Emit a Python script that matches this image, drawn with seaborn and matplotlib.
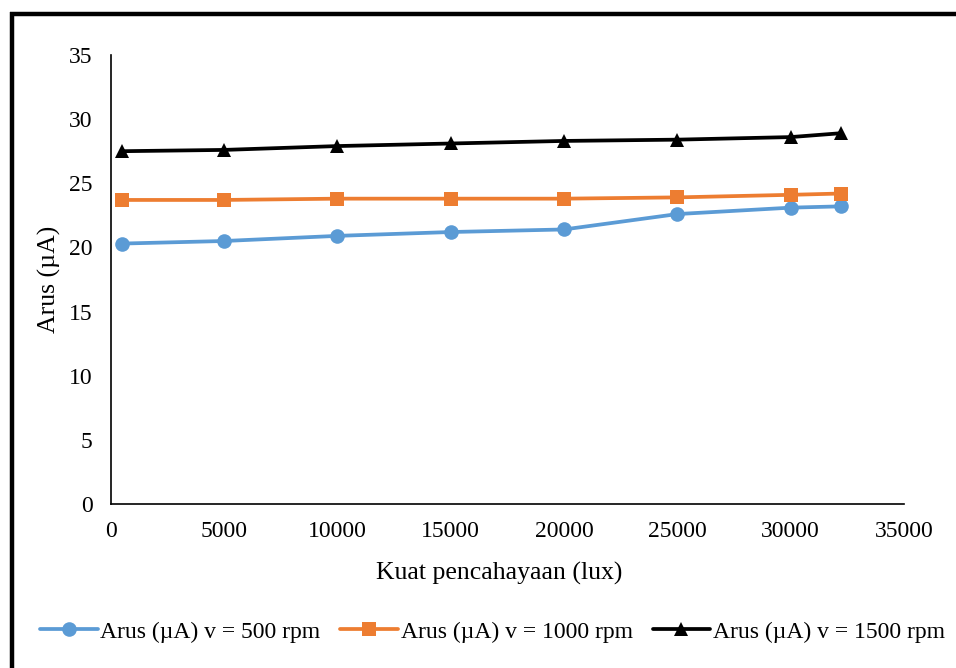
import pandas as pd
import matplotlib.pyplot as plt
import seaborn as sns
from matplotlib.lines import Line2D

# data
lux = [500, 5000, 10000, 15000, 20000, 25000, 30000, 32200]
arus_500 = [20.3, 20.5, 20.9, 21.2, 21.4, 22.6, 23.1, 23.2]
arus_1000 = [23.7, 23.7, 23.8, 23.8, 23.8, 23.9, 24.1, 24.2]
arus_1500 = [27.5, 27.6, 27.9, 28.1, 28.3, 28.4, 28.6, 28.9]
series_names = ["Arus (µA) v = 500 rpm", "Arus (µA) v = 1000 rpm", "Arus (µA) v = 1500 rpm"]
colors = ["#5B9BD5", "#ED7D31", "#000000"]
markers = ["o", "s", "^"]
x_ticks = [0, 5000, 10000, 15000, 20000, 25000, 30000, 35000]
y_ticks = [0, 5, 10, 15, 20, 25, 30, 35]

df = pd.DataFrame({
    "lux": lux * 3,
    "arus": arus_500 + arus_1000 + arus_1500,
    "seri": [series_names[0]] * len(lux) + [series_names[1]] * len(lux) + [series_names[2]] * len(lux),
})

sns.set_style("white")
plt.rcParams["font.family"] = ["Liberation Serif", "DejaVu Serif"]
plt.rcParams["text.color"] = "black"
plt.rcParams["axes.labelcolor"] = "black"

fig = plt.figure(figsize=(9.56, 6.68), dpi=100)
ax = fig.add_axes([0.1158, 0.2455, 0.8298, 0.6722])

sns.lineplot(data=df, x="lux", y="arus", hue="seri", style="seri",
             palette=dict(zip(series_names, colors)),
             markers=dict(zip(series_names, markers)), dashes=False,
             linewidth=2.7, markersize=10.5, markeredgewidth=0,
             legend=False, ax=ax)

ax.set_xlim(0, 35000)
ax.set_ylim(0, 35)
ax.set_xticks(x_ticks)
ax.set_yticks(y_ticks)
ax.set_xticklabels([str(t) for t in x_ticks])
ax.tick_params(axis="both", length=0, labelsize=17, colors="black")
ax.tick_params(axis="x", pad=12)
ax.tick_params(axis="y", pad=13)
ax.set_xlabel("Kuat pencahayaan (lux)", fontsize=18.5)
ax.set_ylabel("Arus (µA)", fontsize=18.5, labelpad=6)
ax.xaxis.set_label_coords(0.49, -0.128)

for side in ["top", "right"]:
    ax.spines[side].set_visible(False)
for side in ["left", "bottom"]:
    ax.spines[side].set_color("black")
    ax.spines[side].set_linewidth(1.2)

handles = [Line2D([0], [0], color=c, marker=m, linewidth=2.7, markersize=10.5,
                  markeredgewidth=0) for c, m in zip(colors, markers)]
fig.legend(handles, series_names, loc="center", bbox_to_anchor=(0.515, 0.054),
           ncol=3, frameon=False, fontsize=17, handlelength=2.45,
           handletextpad=0.1, columnspacing=0.85)

# page frame around the chart
fig.add_artist(Line2D([12 / 956, 12 / 956], [0, 1 - 12 / 668], color="black",
                      linewidth=3.2, solid_capstyle="butt", transform=fig.transFigure))
fig.add_artist(Line2D([10 / 956, 1], [1 - 14 / 668, 1 - 14 / 668], color="black",
                      linewidth=3.2, solid_capstyle="butt", transform=fig.transFigure))

plt.savefig("out.png", dpi=100)
